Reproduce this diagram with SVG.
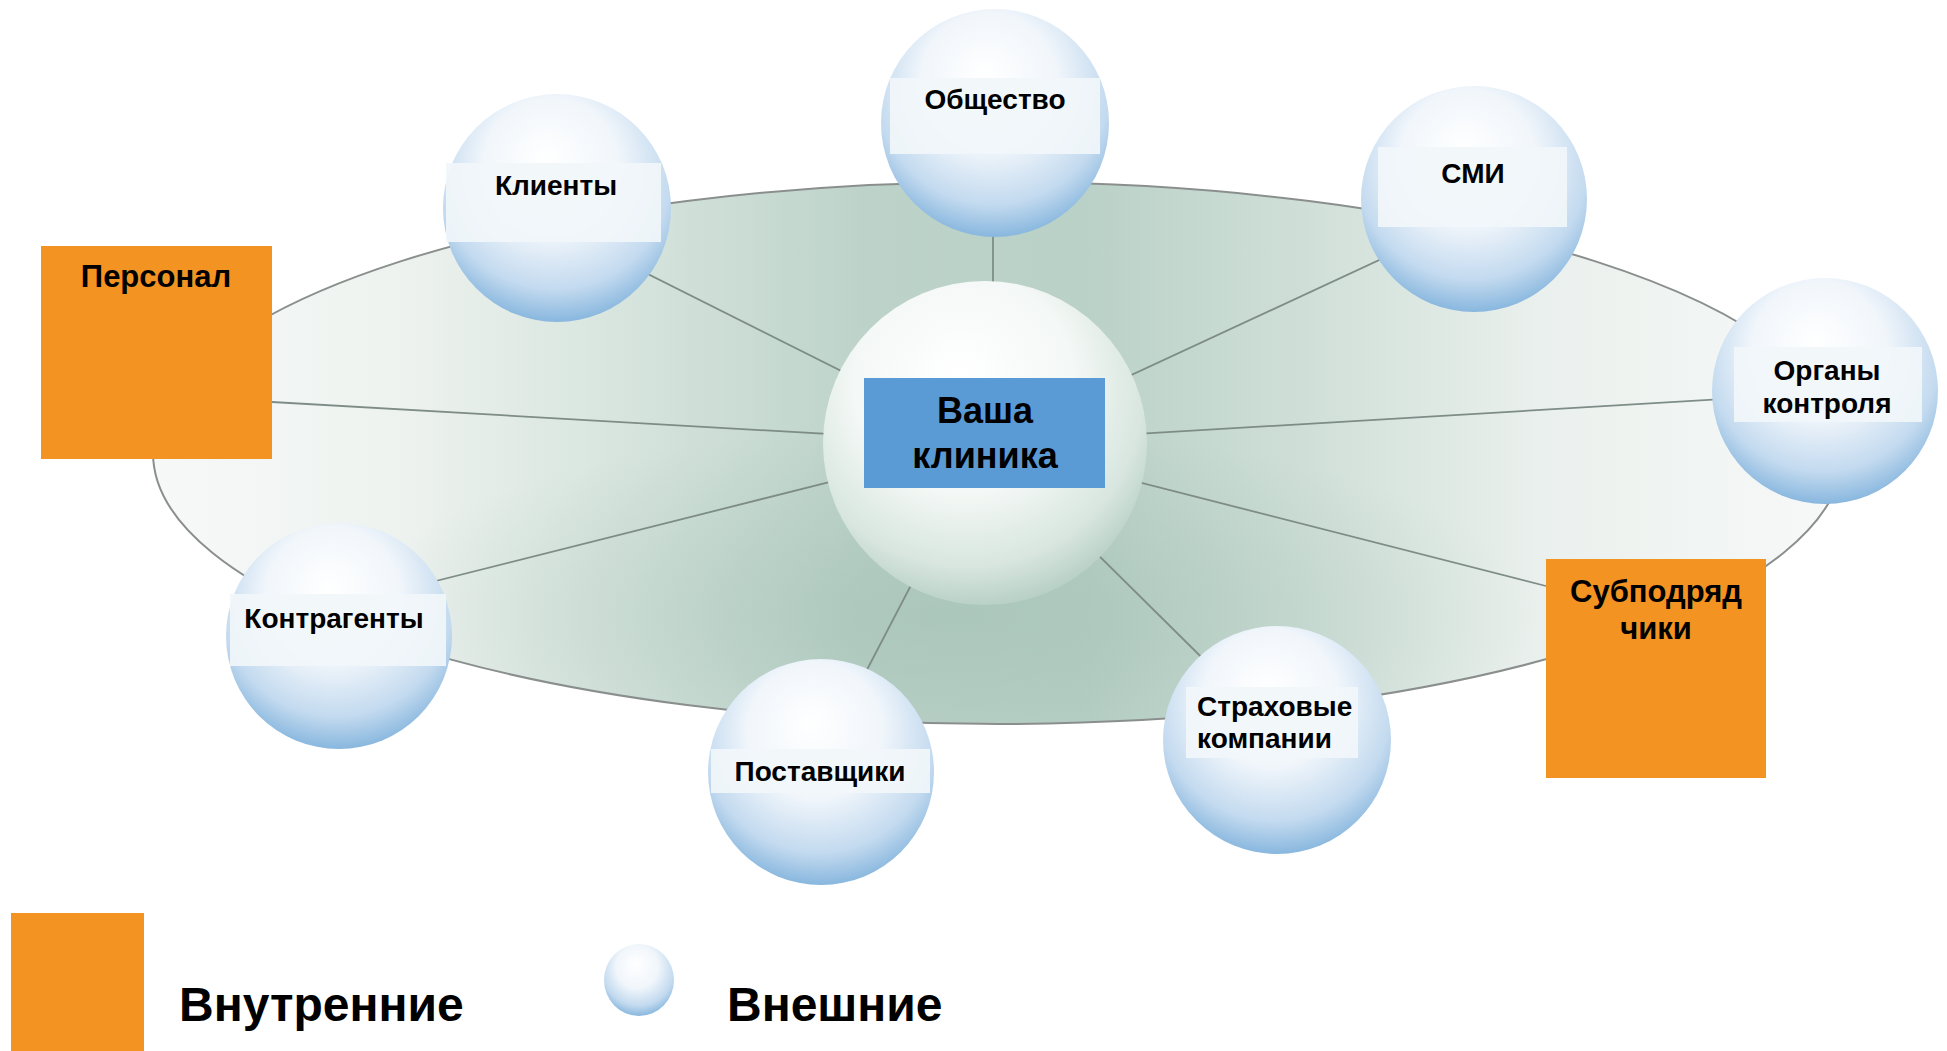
<svg xmlns="http://www.w3.org/2000/svg" width="1947" height="1051" viewBox="0 0 1947 1051">
<defs>
<linearGradient id="disc" x1="0" y1="0" x2="1" y2="0">
<stop offset="0" stop-color="#f7f9f8"/>
<stop offset="0.15" stop-color="#edf2ef"/>
<stop offset="0.3" stop-color="#d3e2db"/>
<stop offset="0.42" stop-color="#bdd3c9"/>
<stop offset="0.55" stop-color="#bad1c7"/>
<stop offset="0.68" stop-color="#cfdfd7"/>
<stop offset="0.82" stop-color="#eaf0ed"/>
<stop offset="1" stop-color="#f7f9f8"/>
</linearGradient>
<radialGradient id="discShade" cx="0.47" cy="0.8" r="0.35">
<stop offset="0" stop-color="#9dbcb0" stop-opacity="0.55"/>
<stop offset="1" stop-color="#9dbcb0" stop-opacity="0"/>
</radialGradient>
<radialGradient id="sat" cx="0.5" cy="0.36" r="0.66" fx="0.45" fy="0.28">
<stop offset="0" stop-color="#ffffff"/>
<stop offset="0.45" stop-color="#f1f6fb"/>
<stop offset="0.78" stop-color="#c3daef"/>
<stop offset="1" stop-color="#80b2dc"/>
</radialGradient>
<radialGradient id="core" cx="0.45" cy="0.35" r="0.68" fx="0.42" fy="0.28">
<stop offset="0" stop-color="#ffffff"/>
<stop offset="0.5" stop-color="#f4f8f6"/>
<stop offset="0.8" stop-color="#d8e6df"/>
<stop offset="1" stop-color="#b2ccc1"/>
</radialGradient>
</defs>
<style>
.lbl{font-family:"Liberation Sans",Arial,sans-serif;font-weight:bold;fill:#000;}
.s{font-size:28px;text-anchor:middle;}
.band{fill:#f1f6fa;opacity:0.92;}
.spoke{stroke:#7e8c87;stroke-width:1.8;fill:none;}
.orange{fill:#f39322;}
</style>
<rect width="1947" height="1051" fill="#ffffff"/>
<g id="disc-plane">
<ellipse cx="998" cy="453" rx="845" ry="271" fill="url(#disc)"/>
<ellipse cx="998" cy="453" rx="845" ry="271" fill="url(#discShade)" stroke="#8a8f8e" stroke-width="2"/>
</g>
<g id="connectors">
<line class="spoke" x1="993" y1="443" x2="993" y2="200"/>
<line class="spoke" x1="985" y1="443" x2="600" y2="250"/>
<line class="spoke" x1="985" y1="443" x2="1474" y2="216"/>
<line class="spoke" x1="985" y1="443" x2="1825" y2="393"/>
<line class="spoke" x1="985" y1="443" x2="1546" y2="586"/>
<line class="spoke" x1="985" y1="443" x2="1270" y2="725"/>
<line class="spoke" x1="985" y1="443" x2="820" y2="760"/>
<line class="spoke" x1="985" y1="443" x2="380" y2="595"/>
<line class="spoke" x1="985" y1="443" x2="272" y2="402"/>
</g>
<g id="node-clinic">
<circle cx="985" cy="443" r="162" fill="url(#core)"/>
<rect x="864" y="378" width="241" height="110" fill="#5b9bd5"/>
<text class="lbl" x="985" y="423" font-size="36" text-anchor="middle">Ваша</text>
<text class="lbl" x="985" y="468" font-size="36" text-anchor="middle">клиника</text>
</g>
<g id="node-obshchestvo">
<circle cx="995" cy="123" r="114" fill="url(#sat)"/>
<rect class="band" x="890" y="78" width="210" height="76"/>
<text class="lbl s" x="995" y="109">Общество</text>
</g>
<g id="node-klienty">
<circle cx="557" cy="208" r="114" fill="url(#sat)"/>
<rect class="band" x="446" y="163" width="215" height="79"/>
<text class="lbl s" x="556" y="195">Клиенты</text>
</g>
<g id="node-smi">
<circle cx="1474" cy="199" r="113" fill="url(#sat)"/>
<rect class="band" x="1378" y="147" width="189" height="80"/>
<text class="lbl s" x="1473" y="183">СМИ</text>
</g>
<g id="node-organy">
<circle cx="1825" cy="391" r="113" fill="url(#sat)"/>
<rect class="band" x="1734" y="347" width="188" height="75"/>
<text class="lbl s" x="1827" y="380">Органы</text>
<text class="lbl s" x="1827" y="413">контроля</text>
</g>
<g id="node-kontragenty">
<circle cx="339" cy="636" r="113" fill="url(#sat)"/>
<rect class="band" x="230" y="594" width="216" height="72"/>
<text class="lbl s" x="334" y="628">Контрагенты</text>
</g>
<g id="node-postavshchiki">
<circle cx="821" cy="772" r="113" fill="url(#sat)"/>
<rect class="band" x="711" y="749" width="219" height="44"/>
<text class="lbl s" x="820" y="781">Поставщики</text>
</g>
<g id="node-strakhovye">
<circle cx="1277" cy="740" r="114" fill="url(#sat)"/>
<rect class="band" x="1186" y="687" width="172" height="71"/>
<text class="lbl" x="1197" y="716" font-size="28">Страховые</text>
<text class="lbl" x="1197" y="748" font-size="28">компании</text>
</g>
<g id="node-personal">
<rect class="orange" x="41" y="246" width="231" height="213"/>
<text class="lbl" x="156" y="287" font-size="31" text-anchor="middle">Персонал</text>
</g>
<g id="node-subpodryadchiki">
<rect class="orange" x="1546" y="559" width="220" height="219"/>
<text class="lbl" x="1656" y="602" font-size="31" text-anchor="middle">Субподряд</text>
<text class="lbl" x="1656" y="639" font-size="31" text-anchor="middle">чики</text>
</g>
<g id="legend">
<rect class="orange" x="11" y="913" width="133" height="138"/>
<text class="lbl" x="179" y="1021" font-size="48">Внутренние</text>
<ellipse cx="639" cy="980" rx="35" ry="36" fill="url(#sat)"/>
<text class="lbl" x="727" y="1021" font-size="48">Внешние</text>
</g>
</svg>
